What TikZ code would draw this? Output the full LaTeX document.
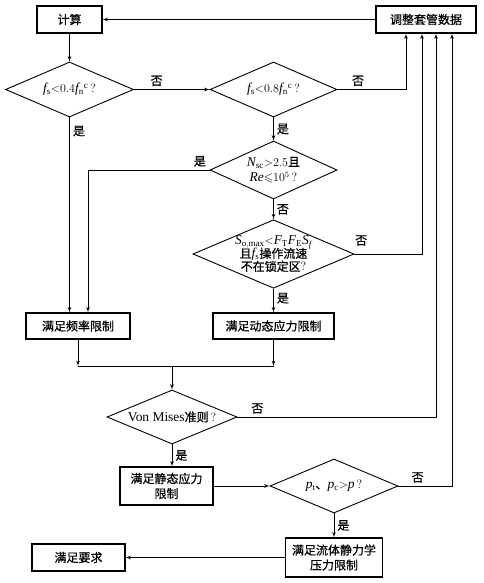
\documentclass[tikz,border=0pt]{standalone}
\usepackage{amssymb}
\usepackage{fontspec}
\setmainfont{Liberation Serif}[Scale=1.12]
\newfontfamily\cjk[FakeBold=0.6]{Noto Sans CJK SC}
\usetikzlibrary{shapes,arrows}

\begin{document}
\begin{tikzpicture}[x=1pt, y=-1pt, auto, font=\cjk\fontsize{12}{15}\selectfont]

\tikzstyle{block} = [rectangle, draw, line width=1.1pt, text centered, align=center,
minimum height=27pt, inner sep=2pt]
\tikzstyle{decision} = [diamond, draw, line width=0.9pt, align=center, inner sep=0pt,
aspect=2.35]
\tikzstyle{line} = [draw, -latex', line width=0.8pt]
\tikzstyle{tag} = [inner sep=3pt]

\useasboundingbox (0,0) rectangle (484,583);

\node [block, minimum width=65pt] (calc) at (69.5,19.5) {计算};
\node [block, minimum width=100pt, right of=calc, node distance=356.5pt] (adjust) {调整套管数据};

\node [decision, minimum width=128pt, minimum height=55pt, below of=calc, node distance=70pt] (cond1)
{$\mathit{f}_{\mathrm{s}}{<}0.4\mathit{f}_{\mathrm{n}}{}^{\mathrm{c}}\,?$};
\node [decision, minimum width=127pt, minimum height=55pt, right of=cond1, node distance=204pt] (cond2)
{$\mathit{f}_{\mathrm{s}}{<}0.8\mathit{f}_{\mathrm{n}}{}^{\mathrm{c}}\,?$};
\node [decision, minimum width=127pt, minimum height=58pt, below of=cond2, node distance=80.5pt] (cond3)
{$\mathit{N}_{\mathrm{sc}}{>}2.5$且\\$\mathit{Re}{\leqslant}10^{5}\,?$};
\node [decision, minimum width=160pt, minimum height=68pt, below of=cond3, node distance=84pt] (cond4)
{$\mathit{S}_{\mathrm{o,max}}{<}\mathit{F}_{\mathrm{T}}\mathit{F}_{\mathrm{E}}\mathit{S}_{\mathit{f}}$\\[-2pt]
且$\mathit{f}_{\mathrm{s}}$操作流速\\[-2pt]不在锁定区$?$};

\node [block, minimum width=121pt, minimum height=26pt, below of=cond4, node distance=72pt] (dyn) {满足动态应力限制};
\node [block, minimum width=104pt, minimum height=26pt, left of=dyn, node distance=195.5pt] (freq) {满足频率限制};
\coordinate (join) at (0,366);

\node [decision, minimum width=130pt, minimum height=54pt] (cond5) at (172,417)
{{\rmfamily Von Mises}准则$\,?$};
\node [block, minimum width=93pt, minimum height=38pt] (static) at (166.5,486) {满足静态应力\\限制};
\node [decision, minimum width=128pt, minimum height=54pt, right of=static, node distance=167.5pt] (cond6)
{$\mathit{p}_{\mathrm{t}}$、$\mathit{p}_{\mathrm{c}}{>}\mathit{p}\,?$};
\node [block, minimum width=97pt, minimum height=39pt, below of=cond6, node distance=71.5pt] (hydro)
{满足流体静力学\\压力限制};
\node [block, minimum width=93pt, left of=hydro, node distance=255.5pt] (done) {满足要求};

\path [line] (adjust) -- (calc);
\path [line] (calc) -- (cond1);
\path [line] (cond1) -- node [tag, above, pos=0.3] {否} (cond2);
\path [line] (cond2.east) -| node [tag, above, pos=0.15] {否} ([xshift=-20pt]adjust.south);
\path [line] (cond1) -- node [tag, right, pos=0.07] {是} (cond1 |- freq.north);
\path [line] (cond2) -- node [tag, right] {是} (cond3);
\path [line] (cond3.west) -| node [tag, above, pos=0.04] {是} ([xshift=10pt]freq.north);
\path [line] (cond3) -- node [tag, right] {否} (cond4);
\path [line] (cond4.east) -| node [tag, above=5pt, pos=0.05] {否} ([xshift=-4pt]adjust.south);
\path [line] (cond4) -- node [tag, right, pos=0.4] {是} (dyn);

\path [line] (freq) -- (freq |- join);
\path [line] (dyn) -- (dyn |- join);
\draw [line width=0.8pt] (freq |- join) -- (dyn |- join);
\path [line] (cond5 |- join) -- (cond5);

\path [line] (cond5.east) -| node [tag, above, pos=0.05] {否} ([xshift=10pt]adjust.south);
\path [line] (cond5) -- node [tag, right] {是} (cond5 |- static.north);
\path [line] (static) -- (cond6);
\path [line] (cond6.east) -| node [tag, above, pos=0.18] {否} ([xshift=26pt]adjust.south);
\path [line] (cond6) -- node [tag, right] {是} (cond6 |- hydro.north);
\path [line] (hydro) -- (done);
\end{tikzpicture}
\end{document}
